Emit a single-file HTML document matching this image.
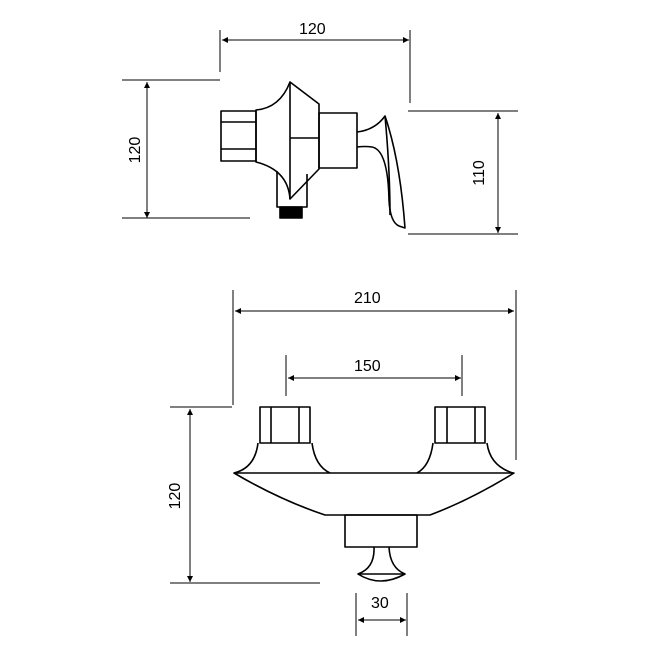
<!DOCTYPE html>
<html><head><style>html,body{margin:0;padding:0;background:#fff}svg{display:block}text{font-family:"Liberation Sans",sans-serif;font-size:16px;fill:#000}</style></head><body>
<svg width="659" height="656" viewBox="0 0 659 656">
<defs><marker id="a" viewBox="0 0 10 10" refX="10" refY="5" markerWidth="8" markerHeight="6" orient="auto-start-reverse" markerUnits="userSpaceOnUse"><path d="M0,0 L10,5 L0,10 Z" fill="#000"/></marker></defs>
<g stroke="#000" stroke-width="1" fill="none">
<line x1="222" y1="40" x2="409" y2="40" marker-start="url(#a)" marker-end="url(#a)"/>
<line x1="220" y1="30" x2="220" y2="72"/><line x1="410" y1="30" x2="410" y2="103"/>
<line x1="147" y1="82" x2="147" y2="218" marker-start="url(#a)" marker-end="url(#a)"/>
<line x1="122" y1="80" x2="220" y2="80"/><line x1="122" y1="218" x2="250" y2="218"/>
<line x1="498" y1="113" x2="498" y2="233" marker-start="url(#a)" marker-end="url(#a)"/>
<line x1="408" y1="111" x2="518" y2="111"/><line x1="408" y1="234" x2="518" y2="234"/>
<line x1="235" y1="311" x2="514" y2="311" marker-start="url(#a)" marker-end="url(#a)"/>
<line x1="233" y1="290" x2="233" y2="405"/><line x1="516" y1="290" x2="516" y2="460"/>
<line x1="288" y1="378" x2="461" y2="378" marker-start="url(#a)" marker-end="url(#a)"/>
<line x1="286" y1="355" x2="286" y2="396"/><line x1="462" y1="355" x2="462" y2="396"/>
<line x1="190" y1="409" x2="190" y2="582" marker-start="url(#a)" marker-end="url(#a)"/>
<line x1="170" y1="407" x2="232" y2="407"/><line x1="170" y1="583" x2="320" y2="583"/>
<line x1="358" y1="620" x2="406" y2="620" marker-start="url(#a)" marker-end="url(#a)"/>
<line x1="356" y1="593" x2="356" y2="636"/><line x1="407" y1="593" x2="407" y2="636"/>
</g>
<g stroke="#000" stroke-width="1.6" fill="none" stroke-linejoin="round">
<rect x="221" y="111" width="35" height="50"/>
<line x1="221" y1="122" x2="256" y2="122"/><line x1="221" y1="149" x2="256" y2="149"/>
<path d="M256,110 Q280,108 290,82 L319,104 L319,169 L290,199 Q288,170 256,162 Z"/>
<line x1="290" y1="82" x2="290" y2="199"/><line x1="290" y1="138" x2="319" y2="138"/>
<path d="M277,171 L277,207 L307,207 L307,174"/>
<rect x="280" y="207" width="22" height="11" fill="#000"/>
<rect x="319" y="113" width="38" height="55"/>
<path d="M357,132 Q375,130 385,116 Q400,160 405,228 L399,226 Q390,222 389,200 Q388,150 372,147 Q365,146 357,147"/>
<path d="M385,116 Q390,170 390,215"/>
<rect x="260" y="407" width="50" height="36"/><line x1="271" y1="407" x2="271" y2="443"/><line x1="299" y1="407" x2="299" y2="443"/>
<rect x="435" y="407" width="50" height="36"/><line x1="447" y1="407" x2="447" y2="443"/><line x1="475" y1="407" x2="475" y2="443"/>
<path d="M258,443 Q255,468 234,473"/><path d="M312,443 Q315,466 330,473"/>
<path d="M433,443 Q430,466 417,473"/><path d="M487,443 Q490,466 513,473"/>
<path d="M234,473 L514,473 Q470,500 430,515 L325,515 Q280,500 234,473 Z"/>
<rect x="345" y="515" width="72" height="32"/>
<path d="M374,547 Q375,568 358,574 Q380,588 405,574 Q390,568 389,547"/>
<path d="M358,574 L405,574"/>
</g>
<text x="299" y="34">120</text>
<text x="136" y="150" transform="rotate(-90 136 150)" text-anchor="middle" dominant-baseline="middle">120</text>
<text x="480" y="173" transform="rotate(-90 480 173)" text-anchor="middle" dominant-baseline="middle">110</text>
<text x="354" y="303">210</text>
<text x="354" y="371">150</text>
<text x="176" y="496" transform="rotate(-90 176 496)" text-anchor="middle" dominant-baseline="middle">120</text>
<text x="371" y="608">30</text>
</svg>
</body></html>
